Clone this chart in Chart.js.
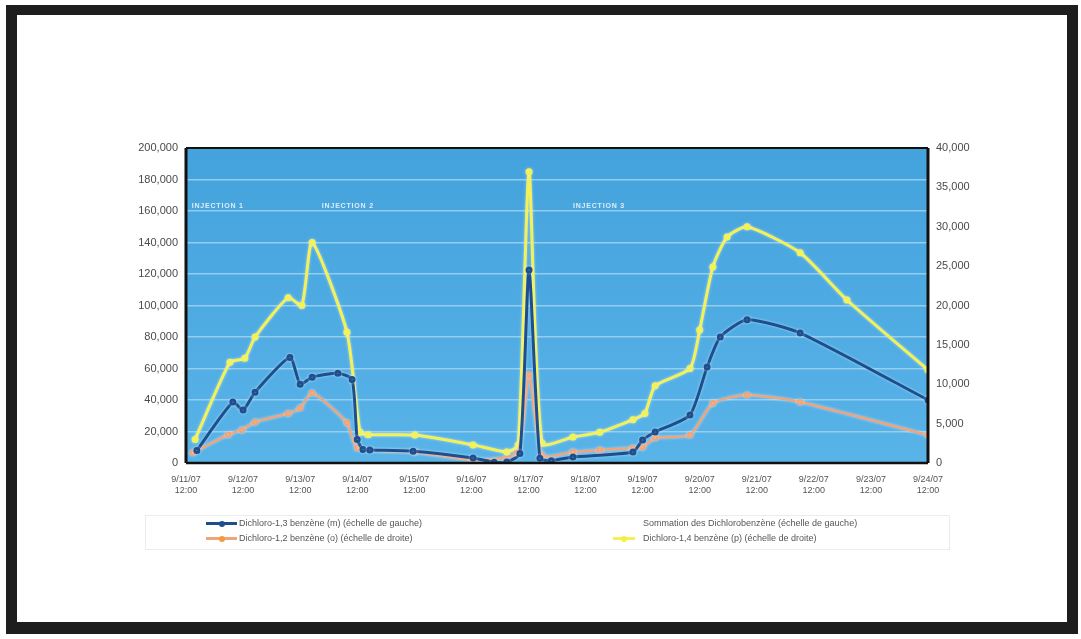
<!DOCTYPE html>
<html>
<head>
<meta charset="utf-8">
<script src="https://cdn.jsdelivr.net/npm/chart.js@4.4.0/dist/chart.umd.min.js"></script>
<style>
  html, body { margin: 0; padding: 0; background: #fff; }
  body { width: 1081px; height: 639px; position: relative; overflow: hidden; font-family: "Liberation Sans", Arial, sans-serif; }
  #frame { position: absolute; left: 6px; top: 5px; width: 1050px; height: 607px;
           border-style: solid; border-color: #1e1e1e; border-width: 10px 11px 12px 11px; background: #fff; }
  #chart { position: absolute; left: 0; top: 0; }
  #legend { position: absolute; left: 145px; top: 515px; width: 803px; height: 33px; border: 1px solid #ececec; }
  .item { position: absolute; font-size: 9px; color: #555; white-space: nowrap; line-height: 11px; }
  .sw { position: absolute; height: 3px; }
  .dot { position: absolute; width: 6px; height: 6px; border-radius: 50%; top: -1.5px; }
</style>
</head>
<body>
<div id="frame"></div>
<canvas id="chart" width="1081" height="639"></canvas>
<div id="legend"></div>
<script>
// x values are days after 9/11/07 12:00
const dateLabels = ['9/11/07', '9/12/07', '9/13/07', '9/14/07', '9/15/07', '9/16/07', '9/17/07',
                    '9/18/07', '9/19/07', '9/20/07', '9/21/07', '9/22/07', '9/23/07', '9/24/07'];
const timeLabel = '12:00';

// Dichloro-1,3 benzène (m), left axis
const mDays = [0.19, 0.82, 1.0, 1.21, 1.82, 2.0, 2.21, 2.66, 2.91, 3.0, 3.1, 3.22, 3.98, 5.03, 5.4, 5.62, 5.85,
               6.01, 6.2, 6.4, 6.78, 7.83, 8.0, 8.22, 8.83, 9.13, 9.36, 9.83, 10.76, 13.0];
const mValues = [8000, 38700, 33600, 45000, 67000, 50000, 54500, 57000, 53000, 15000, 8500, 8200, 7500, 3200, 500, 600, 6000,
                 122500, 3000, 1500, 3800, 7000, 14600, 19700, 30500, 61000, 80000, 91000, 82500, 40000];

// Dichloro-1,2 benzène (o), right axis
const oDays = [0.12, 0.74, 0.98, 1.21, 1.79, 2.0, 2.21, 2.82, 3.0, 4.01, 5.03, 5.8, 6.01, 6.24, 6.78, 7.25,
               7.83, 8.0, 8.22, 8.83, 9.23, 9.83, 10.76, 13.0];
const oValues = [1300, 3600, 4200, 5200, 6300, 7000, 8900, 5100, 1900, 1400, 400, 1300, 11200, 1000, 1400, 1650,
                 1900, 2000, 3200, 3550, 7600, 8650, 7750, 3550];

// Dichloro-1,4 benzène (p), right axis
const pDays = [0.16, 0.77, 1.03, 1.21, 1.79, 2.03, 2.21, 2.82, 3.05, 3.19, 4.01, 5.03, 5.62, 5.82, 6.01, 6.24,
               6.78, 7.25, 7.83, 8.04, 8.22, 8.83, 9.0, 9.23, 9.48, 9.83, 10.76, 11.58, 13.0];
const pValues = [3000, 12800, 13300, 16000, 21000, 20000, 28000, 16600, 3900, 3600, 3550, 2300, 1400, 2300, 37000, 2500,
                 3300, 3900, 5500, 6300, 9800, 12000, 16900, 24900, 28700, 30000, 26700, 20700, 11800];

const injections = [
    { text: 'INJECTION 1', day: 0.1, value: 163000 },
    { text: 'INJECTION 2', day: 2.38, value: 163000 },
    { text: 'INJECTION 3', day: 6.78, value: 163000 },
];

const toPoints = (xs, ys) => xs.map((x, i) => ({ x: x, y: ys[i] }));

const plotPlugin = {
    id: 'plotDecor',
    beforeDraw(chart) {
        const { ctx, chartArea: a } = chart;
        const g = ctx.createLinearGradient(0, a.top, 0, a.bottom);
        g.addColorStop(0, '#44a2dc');
        g.addColorStop(1, '#58b3e8');
        ctx.save();
        ctx.fillStyle = g;
        ctx.fillRect(a.left, a.top, a.right - a.left, a.bottom - a.top);
        ctx.restore();
    },
    beforeDatasetsDraw(chart) {
        const { ctx, scales } = chart;
        ctx.save();
        ctx.font = 'bold 7px "Liberation Sans", Arial';
        ctx.letterSpacing = '0.8px';
        ctx.fillStyle = 'rgba(235,245,255,0.9)';
        ctx.textBaseline = 'middle';
        injections.forEach(t => {
            ctx.fillText(t.text, scales.x.getPixelForValue(t.day), scales.y.getPixelForValue(t.value));
        });
        ctx.restore();
    },
    beforeDatasetDraw(chart) {
        chart.ctx.save();
        chart.ctx.shadowColor = 'rgba(255,255,255,0.5)';
        chart.ctx.shadowBlur = 3;
    },
    afterDatasetDraw(chart) {
        chart.ctx.restore();
    },
    afterDatasetsDraw(chart) {
        const { ctx, chartArea: a } = chart;
        ctx.save();
        ctx.strokeStyle = '#111';
        ctx.lineWidth = 2;
        ctx.beginPath(); ctx.moveTo(a.left, a.top); ctx.lineTo(a.right, a.top); ctx.stroke();
        ctx.lineWidth = 2.5;
        ctx.beginPath(); ctx.moveTo(a.left, a.bottom); ctx.lineTo(a.right, a.bottom); ctx.stroke();
        ctx.lineWidth = 3;
        ctx.beginPath(); ctx.moveTo(a.left, a.top); ctx.lineTo(a.left, a.bottom); ctx.stroke();
        ctx.beginPath(); ctx.moveTo(a.right, a.top); ctx.lineTo(a.right, a.bottom); ctx.stroke();
        ctx.restore();
    }
};

const tickFont = { family: '"Liberation Sans", Arial', size: 11 };

const chart = new Chart(document.getElementById('chart'), {
    type: 'line',
    data: {
        datasets: [
            {
                label: 'Dichloro-1,3 benzène (m) (échelle de gauche)',
                data: toPoints(mDays, mValues),
                yAxisID: 'y',
                borderColor: '#1d4f8e',
                backgroundColor: '#1d4f8e',
                borderWidth: 3,
                pointRadius: 2,
                order: 1
            },
            {
                label: 'Sommation des Dichlorobenzène (échelle de gauche)',
                data: [],
                yAxisID: 'y',
                borderColor: 'rgba(0,0,0,0)',
                backgroundColor: 'rgba(0,0,0,0)',
                order: 4
            },
            {
                label: 'Dichloro-1,2 benzène (o) (échelle de droite)',
                data: toPoints(oDays, oValues),
                yAxisID: 'y1',
                borderColor: '#f0a47c',
                backgroundColor: '#f59a3c',
                borderWidth: 2.5,
                pointRadius: 2,
                order: 2
            },
            {
                label: 'Dichloro-1,4 benzène (p) (échelle de droite)',
                data: toPoints(pDays, pValues),
                yAxisID: 'y1',
                borderColor: '#f2f258',
                backgroundColor: '#f5f040',
                borderWidth: 3,
                pointRadius: 2,
                order: 3
            }
        ]
    },
    options: {
        responsive: false,
        animation: false,
        layout: { padding: { top: 148, left: 0, right: 0, bottom: 146 } },
        elements: { line: { tension: 0.2 }, point: { borderWidth: 0 } },
        plugins: { legend: { display: false }, tooltip: { enabled: false } },
        scales: {
            x: {
                type: 'linear',
                min: 0,
                max: 13,
                afterFit: s => { s.height = 30; },
                grid: { display: false },
                border: { display: false },
                ticks: {
                    stepSize: 1,
                    padding: 3,
                    maxRotation: 0,
                    color: '#555',
                    font: { family: '"Liberation Sans", Arial', size: 9, lineHeight: 1.2 },
                    callback: v => [dateLabels[v], timeLabel]
                }
            },
            y: {
                position: 'left',
                min: 0,
                max: 200000,
                afterFit: s => { s.width = 186; },
                grid: { color: 'rgba(160,212,242,0.85)', lineWidth: 1.5, drawTicks: false },
                border: { display: false },
                ticks: {
                    stepSize: 20000,
                    padding: 8,
                    color: '#4a4a4a',
                    font: tickFont,
                    callback: v => v.toLocaleString('en-US')
                }
            },
            y1: {
                position: 'right',
                min: 0,
                max: 40000,
                afterFit: s => { s.width = 153; },
                grid: { display: false, drawTicks: false },
                border: { display: false },
                ticks: {
                    stepSize: 5000,
                    padding: 8,
                    color: '#4a4a4a',
                    font: tickFont,
                    callback: v => v.toLocaleString('en-US')
                }
            }
        }
    },
    plugins: [plotPlugin]
});

// legend in two columns, as in the report
const legendSlots = [
    { left: 60, top: 2, swLeft: 60, swWidth: 31 },
    { left: 497, top: 2, swLeft: 467, swWidth: 0 },
    { left: 60, top: 17, swLeft: 60, swWidth: 31 },
    { left: 497, top: 17, swLeft: 467, swWidth: 22 }
];
const legendEl = document.getElementById('legend');
chart.data.datasets.forEach((ds, i) => {
    const slot = legendSlots[i];
    if (slot.swWidth > 0) {
        const sw = document.createElement('div');
        sw.className = 'sw';
        sw.style.left = slot.swLeft + 'px';
        sw.style.top = (slot.top + 4) + 'px';
        sw.style.width = slot.swWidth + 'px';
        sw.style.background = ds.borderColor;
        const dot = document.createElement('div');
        dot.className = 'dot';
        dot.style.left = (slot.swWidth / 2 - 3) + 'px';
        dot.style.background = ds.backgroundColor;
        sw.appendChild(dot);
        legendEl.appendChild(sw);
    }
    const it = document.createElement('div');
    it.className = 'item';
    it.style.left = (slot.left + (slot.swWidth > 0 && i % 2 === 0 ? 33 : 0)) + 'px';
    it.style.top = slot.top + 'px';
    it.textContent = ds.label;
    legendEl.appendChild(it);
});
</script>
</body>
</html>
